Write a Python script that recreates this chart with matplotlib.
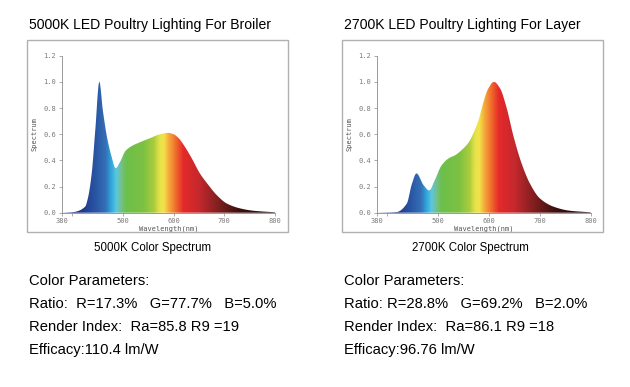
import numpy as np
import matplotlib
matplotlib.use("Agg")
import matplotlib.pyplot as plt
from matplotlib.colors import LinearSegmentedColormap
from matplotlib.patches import Polygon, Rectangle

# spectrum readings (wavelength nm, relative intensity)
wl_5000 = [380, 403, 426, 432, 439, 446, 454, 461, 469, 478, 486, 495, 505, 518, 535,
           554, 574, 590, 600, 610, 623, 636, 652, 669, 685, 705, 731, 757, 800]
sp_5000 = [0.0, 0.005, 0.046, 0.12, 0.30, 0.63, 1.0, 0.78, 0.58, 0.43, 0.34, 0.39, 0.47, 0.51, 0.54,
           0.57, 0.60, 0.61, 0.60, 0.57, 0.50, 0.415, 0.30, 0.21, 0.135, 0.07, 0.033, 0.015, 0.003]

wl_2700 = [380, 419, 439, 449, 458, 472, 483, 494, 507, 521, 534, 547, 560, 570, 580,
           589, 599, 610, 622, 635, 648, 664, 681, 700, 727, 759, 800]
sp_2700 = [0.0, 0.005, 0.07, 0.22, 0.30, 0.21, 0.17, 0.25, 0.36, 0.415, 0.44, 0.48, 0.535, 0.61, 0.71,
           0.84, 0.95, 1.0, 0.95, 0.80, 0.59, 0.38, 0.22, 0.11, 0.046, 0.015, 0.003]

titles = ["5000K LED Poultry Lighting For Broiler", "2700K LED Poultry Lighting For Layer"]
captions = ["5000K Color Spectrum", "2700K Color Spectrum"]
params = [
    ["Color Parameters:", "Ratio:  R=17.3%   G=77.7%   B=5.0%",
     "Render Index:  Ra=85.8 R9 =19", "Efficacy:110.4 lm/W"],
    ["Color Parameters:", "Ratio: R=28.8%   G=69.2%   B=2.0%",
     "Render Index:  Ra=86.1 R9 =18", "Efficacy:96.76 lm/W"],
]
x_ticks = [380, 400, 500, 600, 700, 800]
x_labels = ["380", "", "500", "600", "700", "800"]
y_ticks = [0.0, 0.2, 0.4, 0.6, 0.8, 1.0, 1.2]

# wavelength -> colour stops
stops = [(380, "#1b1f5e"), (420, "#1f3a8a"), (445, "#2a55a3"), (465, "#3470b6"),
         (476, "#2fa6dd"), (486, "#5cc8dd"), (496, "#74c08a"), (506, "#6cbf4a"),
         (540, "#7dc143"), (560, "#a9cc3c"), (572, "#e6e24a"), (580, "#f3e34a"),
         (590, "#f5a93b"), (604, "#ef6a2c"), (618, "#e52a2a"), (650, "#c4282e"),
         (690, "#7b1e1e"), (730, "#3b0f0f"), (800, "#180707")]
cmap = LinearSegmentedColormap.from_list(
    "spec", [((w - 380) / 420, c) for w, c in stops])


def pchip(x, y, xs):
    # monotone cubic through the read points, only for a smooth outline
    x = np.asarray(x, float)
    y = np.asarray(y, float)
    h = np.diff(x)
    d = np.diff(y) / h
    m = np.zeros_like(y)
    for k in range(1, len(x) - 1):
        if d[k - 1] * d[k] > 0:
            w1 = 2 * h[k] + h[k - 1]
            w2 = h[k] + 2 * h[k - 1]
            m[k] = (w1 + w2) / (w1 / d[k - 1] + w2 / d[k])
    m[0] = d[0]
    m[-1] = d[-1]
    idx = np.clip(np.searchsorted(x, xs) - 1, 0, len(x) - 2)
    t = (xs - x[idx]) / h[idx]
    h00 = 2 * t**3 - 3 * t**2 + 1
    h10 = t**3 - 2 * t**2 + t
    h01 = -2 * t**3 + 3 * t**2
    h11 = t**3 - t**2
    return h00 * y[idx] + h10 * h[idx] * m[idx] + h01 * y[idx + 1] + h11 * h[idx] * m[idx + 1]


fig = plt.figure(figsize=(6.3, 3.87), dpi=100)
mono = "DejaVu Sans Mono"
grey = "#7a7a7a"

ax_pos = [[0.098, 0.4504, 0.3387, 0.4057], [0.598, 0.4504, 0.3397, 0.4057]]
box_x = [0.0424, 0.5424]
cap_x = [0.242, 0.747]
data = [(wl_5000, sp_5000), (wl_2700, sp_2700)]

for i in range(2):
    fig.patches.append(Rectangle((box_x[i], 0.4005), 0.414, 0.496, transform=fig.transFigure,
                                 fill=False, edgecolor="#b0b0b0", linewidth=1.0))
    fig.text(box_x[i] + 0.004, 0.935, titles[i], fontsize=10.1, family="Liberation Sans",
             va="center", ha="left")
    fig.text(cap_x[i], 0.36, captions[i], fontsize=8.3, family="Liberation Sans",
             ha="center", va="center")
    for j, line in enumerate(params[i]):
        fig.text(box_x[i] + 0.004, 0.274 - j * 0.0595, line, fontsize=10.6,
                 family="Liberation Sans", va="center", ha="left")

    ax = fig.add_axes(ax_pos[i])
    wl, sp = data[i]
    xs = np.linspace(380, 800, 1200)
    ys = np.clip(pchip(wl, sp, xs), 0, None)
    verts = np.column_stack([np.r_[380, xs, 800], np.r_[0, ys, 0]])
    poly = Polygon(verts, closed=True, facecolor="none", edgecolor="none")
    ax.add_patch(poly)
    grad = np.linspace(0, 1, 420).reshape(1, -1)
    im = ax.imshow(grad, extent=[380, 800, 0, 1.2], aspect="auto", cmap=cmap,
                   origin="lower", interpolation="bilinear")
    im.set_clip_path(poly)

    ax.set_xlim(380, 800)
    ax.set_ylim(0, 1.2)
    ax.set_xticks(x_ticks)
    ax.set_xticklabels(x_labels)
    ax.set_yticks(y_ticks)
    ax.set_yticklabels(["%.1f" % v for v in y_ticks])
    for s in ["top", "right"]:
        ax.spines[s].set_visible(False)
    for s in ["left", "bottom"]:
        ax.spines[s].set_color("#8a8a8a")
        ax.spines[s].set_linewidth(0.6)
    ax.tick_params(length=2, width=0.5, color="#8a8a8a", labelsize=5,
                   labelcolor=grey, pad=2)
    for lab in ax.get_xticklabels() + ax.get_yticklabels():
        lab.set_family(mono)
    ax.set_xlabel("Wavelength(nm)", fontsize=5, family=mono, color="#555555", labelpad=1)
    ax.set_ylabel("Spectrum", fontsize=5, family=mono, color="#555555", labelpad=4)

fig.savefig("out.png", dpi=100)
